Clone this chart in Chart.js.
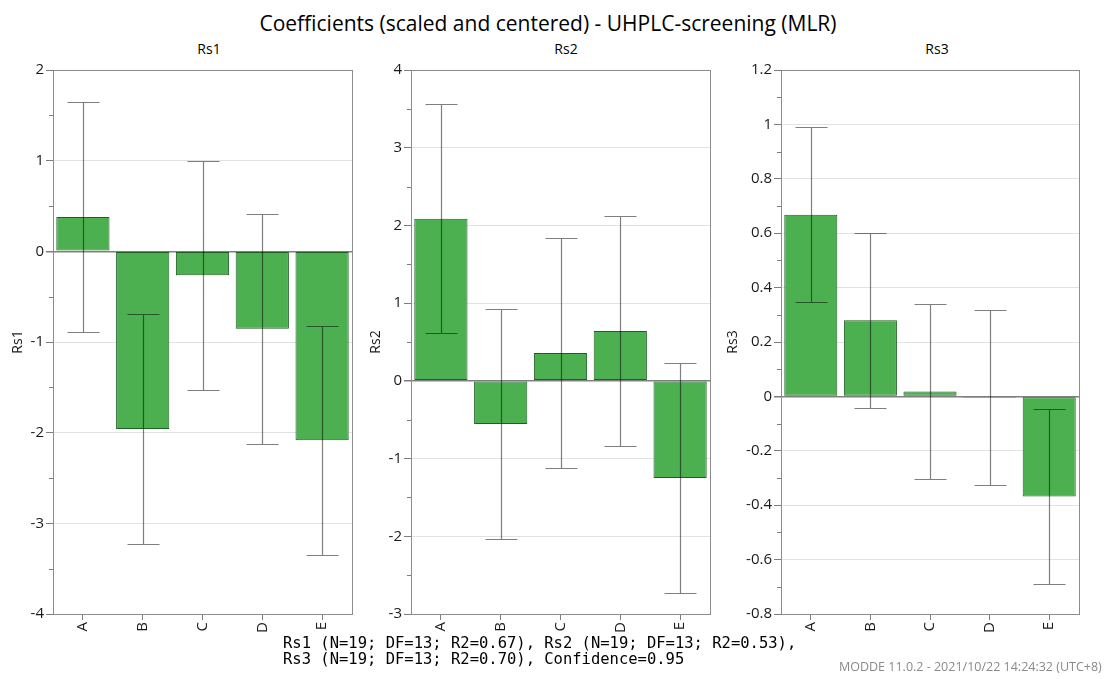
<!DOCTYPE html>
<html>
<head>
<meta charset="utf-8">
<script src="https://cdn.jsdelivr.net/npm/chart.js@4.4.0/dist/chart.umd.min.js"></script>
<style>
  html, body { margin: 0; padding: 0; background: #fff; }
  #page { position: relative; width: 1105px; height: 679px; overflow: hidden; font-family: "Open Sans", sans-serif; }
  canvas.panel { position: absolute; top: 0; }
  #title { position: absolute; top: 13px; left: 0; width: 1096px; text-align: center; font-size: 21px; line-height: 21px; color: #000; white-space: nowrap; }
  .sub { position: absolute; top: 42px; width: 60px; margin-left: -30px; text-align: center; font-size: 14px; line-height: 14px; color: #000; }
  #stats { position: absolute; left: 283px; top: 636px; font-family: "DejaVu Sans Mono", monospace; font-size: 15.5px; line-height: 15.5px; white-space: pre; color: #000; }
  #stamp { position: absolute; left: 839px; top: 660px; font-size: 12.5px; line-height: 13px; color: #8a8a8a; white-space: nowrap; }
</style>
</head>
<body>
<div id="page">
  <div id="title">Coefficients (scaled and centered) - UHPLC-screening (MLR)</div>
  <div class="sub" style="left:209px">Rs1</div>
  <div class="sub" style="left:566px">Rs2</div>
  <div class="sub" style="left:937px">Rs3</div>
  <canvas id="c1" class="panel" width="362" height="679" style="left:0px"></canvas>
  <canvas id="c2" class="panel" width="362" height="679" style="left:358px"></canvas>
  <canvas id="c3" class="panel" width="368" height="679" style="left:721px"></canvas>
  <div id="stats">Rs1 (N=19; DF=13; R2=0.67), Rs2 (N=19; DF=13; R2=0.53),
Rs3 (N=19; DF=13; R2=0.70), Confidence=0.95</div>
  <div id="stamp">MODDE 11.0.2 - 2021/10/22 14:24:32 (UTC+8)</div>
</div>
<script>
// Model terms (factors)
const factors = ['A', 'B', 'C', 'D', 'E'];

// Scaled and centered coefficients per response
const rs1Coef = [0.38, -1.96, -0.265, -0.855, -2.085];
const rs2Coef = [2.085, -0.555, 0.36, 0.64, -1.25];
const rs3Coef = [0.668, 0.28, 0.018, -0.005, -0.368];

// Half-width of the 95% confidence interval for each coefficient
const rs1Ci = [1.265, 1.265, 1.265, 1.265, 1.265];
const rs2Ci = [1.475, 1.475, 1.475, 1.475, 1.475];
const rs3Ci = [0.321, 0.321, 0.321, 0.321, 0.321];

// Y axis ranges and tick steps
const rs1Axis = { min: -4, max: 2, step: 1, minor: 0.5 };
const rs2Axis = { min: -3, max: 4, step: 1, minor: 0.5 };
const rs3Axis = { min: -0.8, max: 1.2, step: 0.2, minor: 0.1 };

const BAR_FILL = '#4caf50';
const BAR_EDGE = '#1f5e23';
const ERR_COLOR = 'rgba(0,0,0,0.5)';
const TICK_COLOR = '#7d7d7d';
const FRAME_COLOR = '#8c8c8c';
const TEXT_COLOR = '#1a1a1a';
const FONT = { family: '"Open Sans", sans-serif', size: 15 };

// Box around the plotting area
const framePlugin = {
  id: 'frame',
  afterDatasetsDraw(chart) {
    const { ctx, chartArea: a } = chart;
    ctx.save();
    ctx.strokeStyle = FRAME_COLOR;
    ctx.lineWidth = 1;
    ctx.strokeRect(Math.round(a.left) + 0.5, Math.round(a.top) + 0.5,
                   Math.round(a.right - a.left), Math.round(a.bottom - a.top));
    ctx.restore();
  }
};

// Short minor tick marks between the labelled y ticks
const minorTickPlugin = {
  id: 'minorTicks',
  afterDraw(chart, args, opts) {
    const y = chart.scales.y;
    const { ctx, chartArea: a } = chart;
    const step = opts.step;
    ctx.save();
    ctx.strokeStyle = TICK_COLOR;
    ctx.lineWidth = 1;
    const n = Math.round((y.max - y.min) / step);
    for (let i = 1; i < n; i++) {
      if (i % 2 === 0) continue;
      const py = Math.round(y.getPixelForValue(y.min + i * step)) + 0.5;
      ctx.beginPath();
      ctx.moveTo(a.left - 4, py);
      ctx.lineTo(a.left, py);
      ctx.stroke();
    }
    ctx.restore();
  }
};

// Confidence interval whiskers drawn over each bar
const errorBarPlugin = {
  id: 'errorBars',
  afterDatasetsDraw(chart) {
    const { ctx } = chart;
    const y = chart.scales.y;
    const ds = chart.data.datasets[0];
    const meta = chart.getDatasetMeta(0);
    ctx.save();
    ctx.strokeStyle = ERR_COLOR;
    ctx.lineWidth = 1.2;
    meta.data.forEach((bar, i) => {
      const c = ds.data[i], h = ds.ci[i];
      const x = Math.round(bar.x) + 0.5;
      const yHi = Math.round(y.getPixelForValue(c + h)) + 0.5;
      const yLo = Math.round(y.getPixelForValue(c - h)) + 0.5;
      const cap = 16;
      ctx.beginPath();
      ctx.moveTo(x, yHi); ctx.lineTo(x, yLo);
      ctx.moveTo(x - cap, yHi); ctx.lineTo(x + cap, yHi);
      ctx.moveTo(x - cap, yLo); ctx.lineTo(x + cap, yLo);
      ctx.stroke();
    });
    ctx.restore();
  }
};

function fmt(v) {
  return String(parseFloat(Number(v).toFixed(2)));
}

function makePanel(id, name, coef, ci, axis, yWidth, titlePad) {
  return new Chart(document.getElementById(id), {
    type: 'bar',
    data: {
      labels: factors,
      datasets: [{
        data: coef,
        ci: ci,
        backgroundColor: BAR_FILL,
        borderColor: BAR_EDGE,
        borderWidth: 1,
        borderSkipped: false,
        inflateAmount: 0,
        barPercentage: 0.89,
        categoryPercentage: 1.0
      }]
    },
    options: {
      responsive: false,
      animation: false,
      layout: { padding: { top: 70, bottom: 35, left: 0, right: 10 } },
      plugins: {
        legend: { display: false },
        tooltip: { enabled: false },
        title: { display: false },
        minorTicks: { step: axis.minor }
      },
      scales: {
        x: {
          offset: true,
          grid: { offset: false, drawOnChartArea: false, drawTicks: true, tickLength: 6, tickColor: TICK_COLOR },
          border: { display: false },
          ticks: { minRotation: 90, maxRotation: 90, padding: 2, font: FONT, color: TEXT_COLOR },
          afterFit(s) { s.height = 30; }
        },
        y: {
          min: axis.min,
          max: axis.max,
          ticks: {
            stepSize: axis.step,
            padding: 2,
            font: FONT,
            color: TEXT_COLOR,
            callback: (v) => fmt(v)
          },
          grid: {
            color: (c) => (c.tick && Math.abs(c.tick.value) < 1e-9) ? '#808080' : '#e2e2e2',
            lineWidth: (c) => (c.tick && Math.abs(c.tick.value) < 1e-9) ? 1.5 : 1,
            drawTicks: true,
            tickLength: 7,
            tickColor: TICK_COLOR
          },
          border: { display: false },
          title: {
            display: true,
            text: name,
            font: { family: '"Open Sans", sans-serif', size: 14 },
            color: TEXT_COLOR,
            padding: { top: titlePad, bottom: 0 }
          },
          afterFit(s) { s.width = yWidth; }
        }
      }
    },
    plugins: [framePlugin, errorBarPlugin, minorTickPlugin]
  });
}

makePanel('c1', 'Rs1', rs1Coef, rs1Ci, rs1Axis, 53, 10);
makePanel('c2', 'Rs2', rs2Coef, rs2Ci, rs2Axis, 53, 10);
makePanel('c3', 'Rs3', rs3Coef, rs3Ci, rs3Axis, 60, 4);
</script>
</body>
</html>
